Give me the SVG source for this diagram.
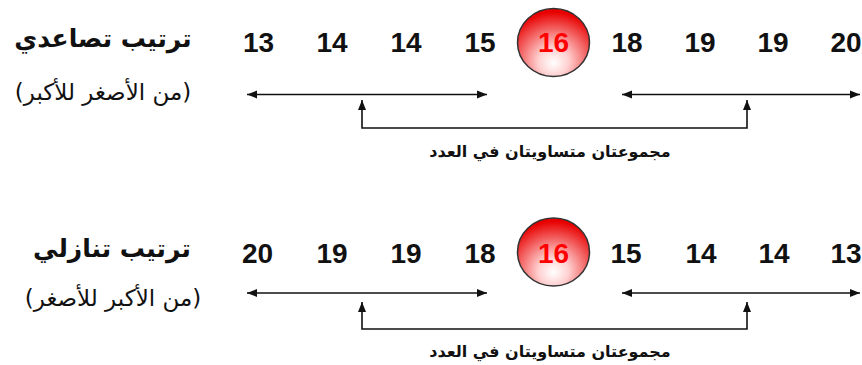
<svg xmlns="http://www.w3.org/2000/svg" width="862" height="365" viewBox="0 0 862 365">
<style>
.num{font-family:"Liberation Sans",Arial,sans-serif;font-weight:bold;font-size:28px;fill:#111;text-anchor:middle}
.red{fill:#ff0000}
.ar{font-family:"DejaVu Sans",sans-serif;font-weight:bold;fill:#111;text-anchor:middle;direction:rtl}
.title{font-size:25px}
.sub{font-size:23px;font-weight:normal}
.lab{font-size:16px}
.ln{stroke:#111;stroke-width:1.6;fill:none}
.circ{fill:url(#rg);stroke:#333;stroke-width:1.5}
</style>
<defs>
<radialGradient id="rg" cx="50%" cy="75%" r="70%" fx="50%" fy="80%">
<stop offset="0" stop-color="#ffffff"/>
<stop offset="0.3" stop-color="#ffd0d0"/>
<stop offset="1" stop-color="#e80000"/>
</radialGradient>
<marker id="ah" viewBox="0 0 10 10" refX="10" refY="5" markerWidth="10" markerHeight="10" markerUnits="userSpaceOnUse" orient="auto-start-reverse">
<path d="M0,1 L10,5 L0,9 Z" fill="#111"/>
</marker>
</defs>

<g id="row1-label">
<text class="ar title" x="103" y="47">ترتيب تصاعدي</text>
<text class="ar sub" x="103" y="100">(من الأصغر للأكبر)</text>
</g>
<g id="row1-numbers">
<text class="num" x="258.5" y="52">13</text>
<text class="num" x="332" y="52">14</text>
<text class="num" x="406" y="52">14</text>
<text class="num" x="480" y="52">15</text>
<text class="num" x="627" y="52">18</text>
<text class="num" x="700" y="52">19</text>
<text class="num" x="773" y="52">19</text>
<text class="num" x="846" y="52">20</text>
</g>
<g id="row1-median">
<ellipse class="circ" cx="553.5" cy="42.5" rx="36" ry="34"/>
<text class="num red" x="553.5" y="52">16</text>
</g>
<g id="row1-connectors">
<line class="ln" x1="247" y1="94.5" x2="487" y2="94.5" marker-start="url(#ah)" marker-end="url(#ah)"/>
<line class="ln" x1="622" y1="94.5" x2="860" y2="94.5" marker-start="url(#ah)" marker-end="url(#ah)"/>
<polyline class="ln" points="362,100 362,128 747,128 747,100" marker-start="url(#ah)" marker-end="url(#ah)"/>
</g>
<g id="row1-note">
<text class="ar lab" x="550" y="157">مجموعتان متساويتان في العدد</text>
</g>

<g id="row2-label">
<text class="ar title" x="112" y="257">ترتيب تنازلي</text>
<text class="ar sub" x="113" y="306">(من الأكبر للأصغر)</text>
</g>
<g id="row2-numbers">
<text class="num" x="257.5" y="263">20</text>
<text class="num" x="332" y="263">19</text>
<text class="num" x="406" y="263">19</text>
<text class="num" x="480" y="263">18</text>
<text class="num" x="626" y="263">15</text>
<text class="num" x="701" y="263">14</text>
<text class="num" x="774" y="263">14</text>
<text class="num" x="846" y="263">13</text>
</g>
<g id="row2-median">
<ellipse class="circ" cx="553.5" cy="252" rx="36" ry="34"/>
<text class="num red" x="553.5" y="263">16</text>
</g>
<g id="row2-connectors">
<line class="ln" x1="247" y1="293" x2="487" y2="293" marker-start="url(#ah)" marker-end="url(#ah)"/>
<line class="ln" x1="622" y1="293" x2="860" y2="293" marker-start="url(#ah)" marker-end="url(#ah)"/>
<polyline class="ln" points="362,302 362,329 747,329 747,302" marker-start="url(#ah)" marker-end="url(#ah)"/>
</g>
<g id="row2-note">
<text class="ar lab" x="550" y="357">مجموعتان متساويتان في العدد</text>
</g>
</svg>
